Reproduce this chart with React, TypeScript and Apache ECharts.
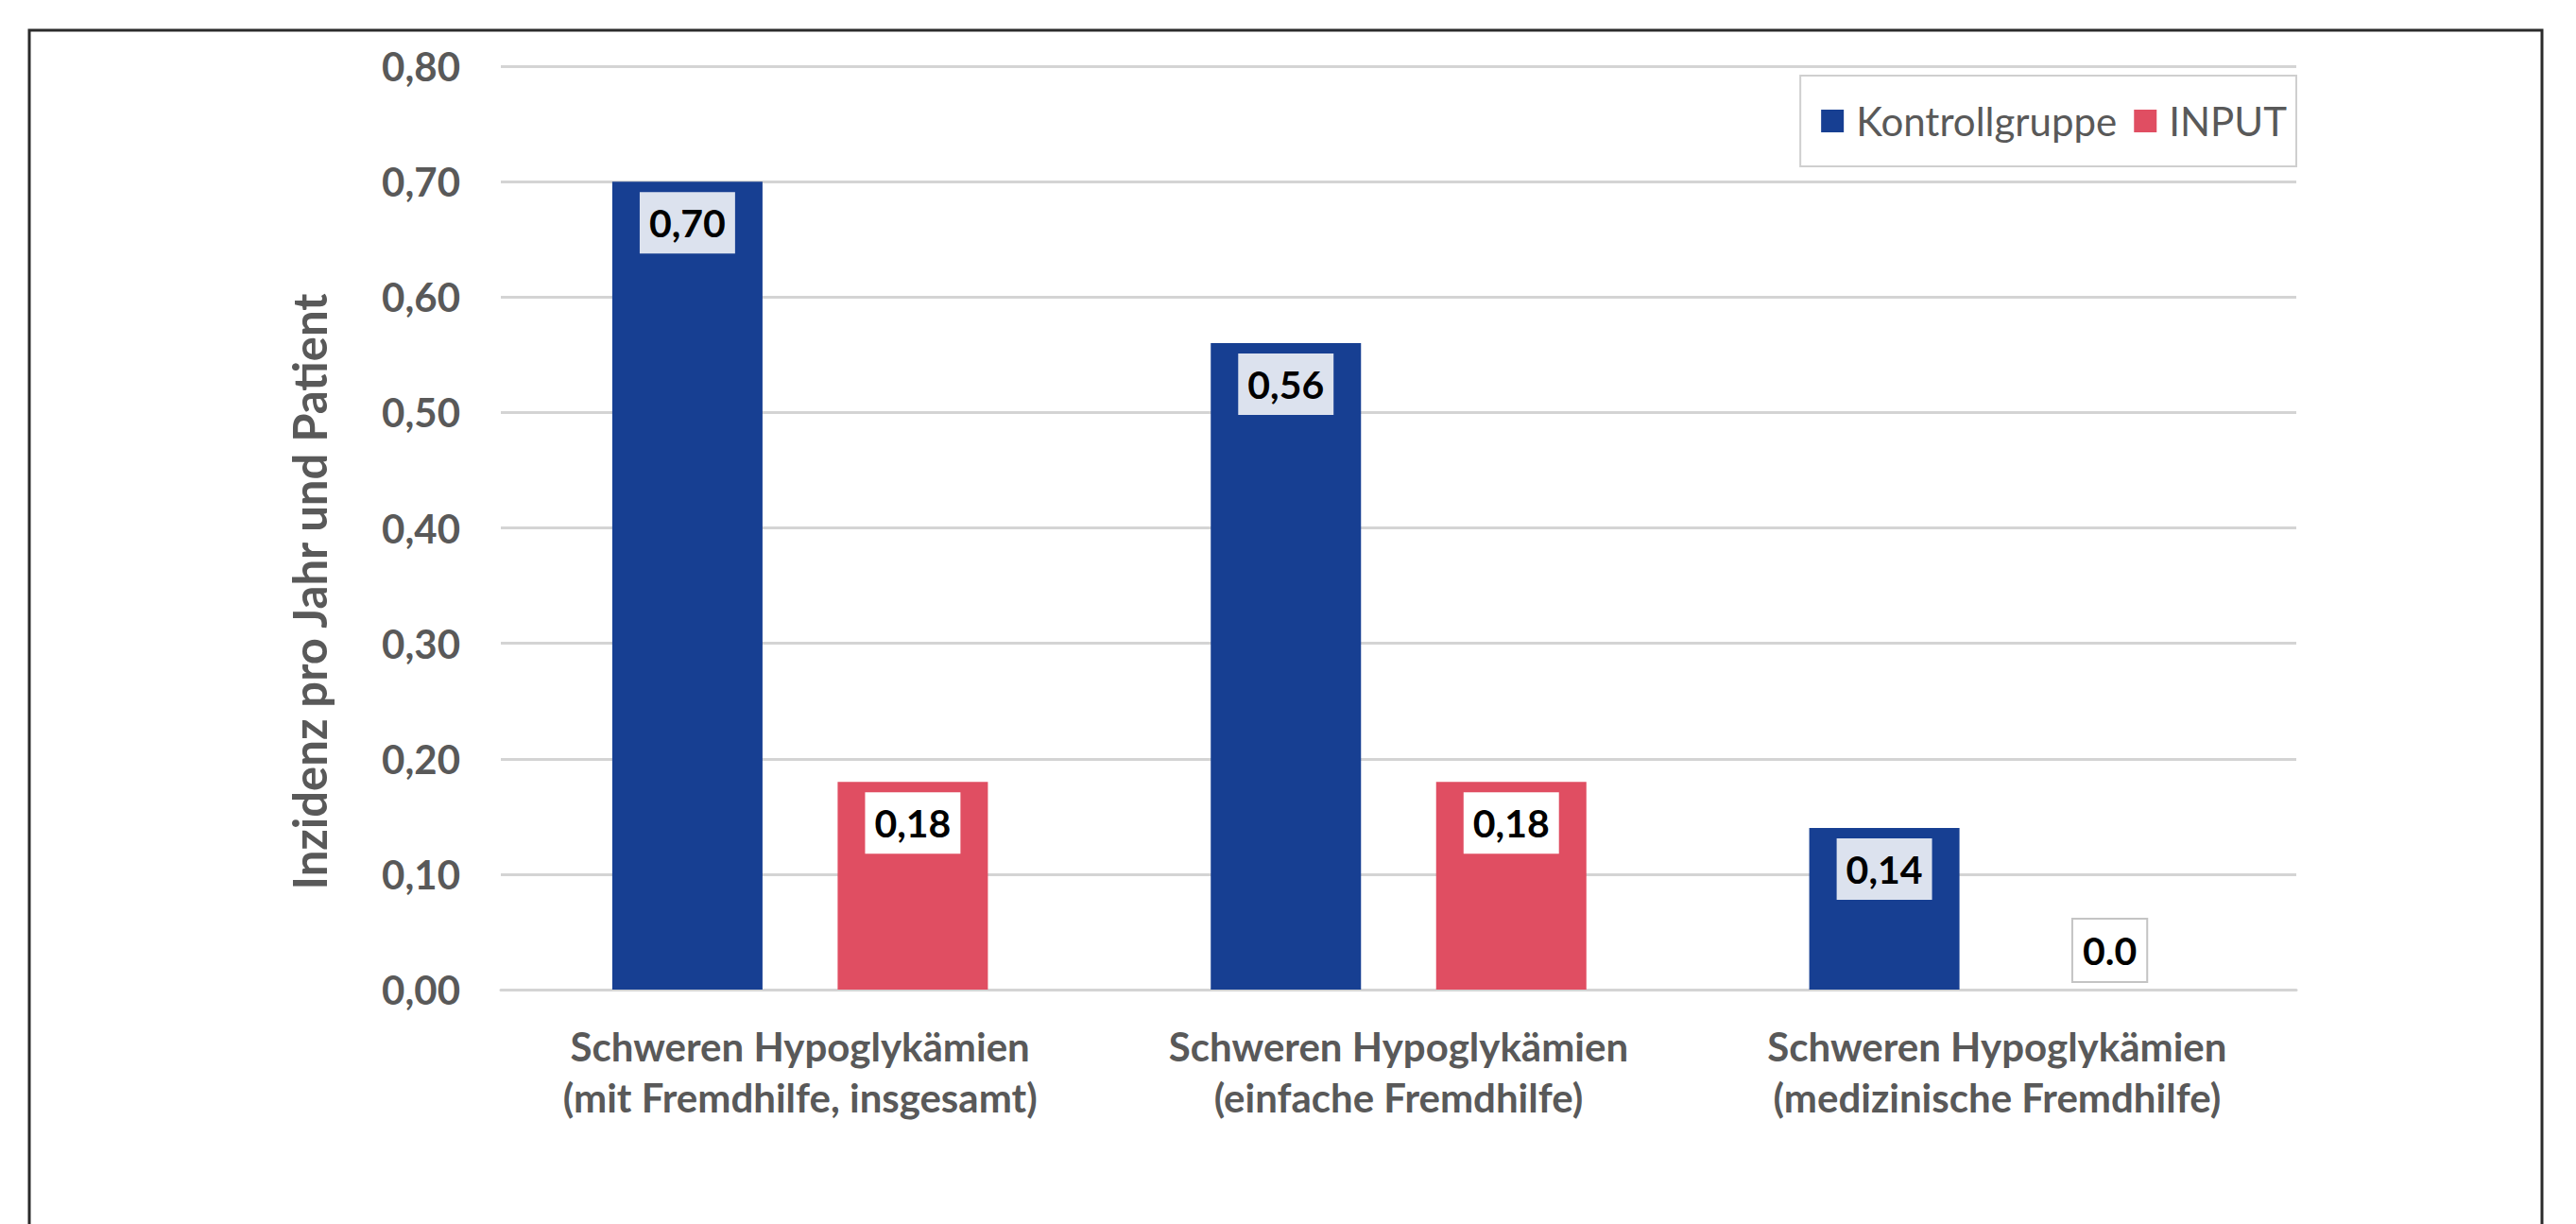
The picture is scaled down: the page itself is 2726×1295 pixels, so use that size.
import React, { useEffect, useRef } from "react";
import * as echarts from "echarts";

const categories = [
  "Schweren Hypoglykämien\n(mit Fremdhilfe, insgesamt)",
  "Schweren Hypoglykämien\n(einfache Fremdhilfe)",
  "Schweren Hypoglykämien\n(medizinische Fremdhilfe)",
];
const seriesNames = ["Kontrollgruppe", "INPUT"];
const kontrollValues = [0.7, 0.56, 0.14];
const inputValues = [0.18, 0.18, 0];
const kontrollLabels = ["0,70", "0,56", "0,14"];
const inputLabels = ["0,18", "0,18", "0.0"];
const yTitle = "Inzidenz pro Jahr und Patient";

const FONT = "Lato, 'Open Sans', sans-serif";
const GRAY = "#595959";
const BLUE = "#173F92";
const RED = "#E04E62";

export default function App() {
  const ref = useRef<HTMLDivElement>(null);
  useEffect(() => {
    if (!ref.current) return;
    const chart = echarts.init(ref.current, undefined, { renderer: "svg" });
    const labelBase = {
      show: true,
      position: "insideTop",
      distance: 11,
      fontFamily: FONT,
      fontWeight: "bold",
      fontSize: 41,
      lineHeight: 41,
      color: "#000000",
      padding: [12, 10, 12, 10],
    };
    chart.setOption({
      animation: false,
      backgroundColor: "#ffffff",
      grid: { left: 530, right: 296, top: 70, bottom: 248, containLabel: false },
      legend: {
        data: seriesNames,
        right: 296,
        top: 80,
        icon: "rect",
        itemWidth: 24,
        itemHeight: 24,
        itemGap: 18,
        padding: [27, 10, 27, 22],
        borderColor: "#cfcfcf",
        borderWidth: 2,
        backgroundColor: "#ffffff",
        textStyle: { fontFamily: FONT, fontSize: 42, color: GRAY, padding: [0, 0, 0, 8] },
      },
      xAxis: {
        type: "category",
        data: categories,
        axisLine: { show: true, lineStyle: { color: "#d4d4d4", width: 3 } },
        axisTick: { show: false },
        axisLabel: {
          fontFamily: FONT,
          fontWeight: "bold",
          fontSize: 42,
          lineHeight: 54,
          color: GRAY,
          margin: 33,
          interval: 0,
        },
      },
      yAxis: {
        type: "value",
        min: 0,
        max: 0.8,
        interval: 0.1,
        axisLine: { show: false },
        axisTick: { show: false },
        splitLine: { lineStyle: { color: "#d4d4d4", width: 3 } },
        axisLabel: {
          fontFamily: FONT,
          fontWeight: "bold",
          fontSize: 42,
          color: GRAY,
          margin: 43,
          formatter: (v: number) => v.toFixed(2).replace(".", ","),
        },
      },
      series: [
        {
          name: seriesNames[0],
          type: "bar",
          barWidth: 159,
          barGap: "50%",
          itemStyle: { color: BLUE },
          data: kontrollValues,
          label: {
            ...labelBase,
            backgroundColor: "#DCE2EE",
            formatter: (p: any) => kontrollLabels[p.dataIndex],
          },
        },
        {
          name: seriesNames[1],
          type: "bar",
          barWidth: 159,
          barGap: "50%",
          itemStyle: { color: RED },
          data: inputValues.map((v) =>
            v === 0
              ? {
                  value: v,
                  label: {
                    position: "top",
                    distance: 9,
                    backgroundColor: "#ffffff",
                    borderColor: "#c4c4c4",
                    borderWidth: 2,
                  },
                }
              : v
          ),
          label: {
            ...labelBase,
            backgroundColor: "#ffffff",
            formatter: (p: any) => inputLabels[p.dataIndex],
          },
        },
      ],
      graphic: [
        {
          type: "rect",
          shape: { x: 31, y: 32, width: 2659, height: 1400 },
          style: { fill: "none", stroke: "#2b2b2b", lineWidth: 3 },
          silent: true,
        },
        {
          type: "text",
          x: 327,
          y: 626,
          rotation: Math.PI / 2,
          style: {
            text: yTitle,
            fontFamily: FONT,
            fontWeight: "bold",
            fontSize: 49,
            fill: GRAY,
            align: "center",
            verticalAlign: "middle",
          },
        },
      ],
    });
    return () => chart.dispose();
  }, []);
  return (
    <div
      ref={ref}
      style={{ position: "fixed", left: 0, top: 0, width: 2726, height: 1295 }}
    />
  );
}
